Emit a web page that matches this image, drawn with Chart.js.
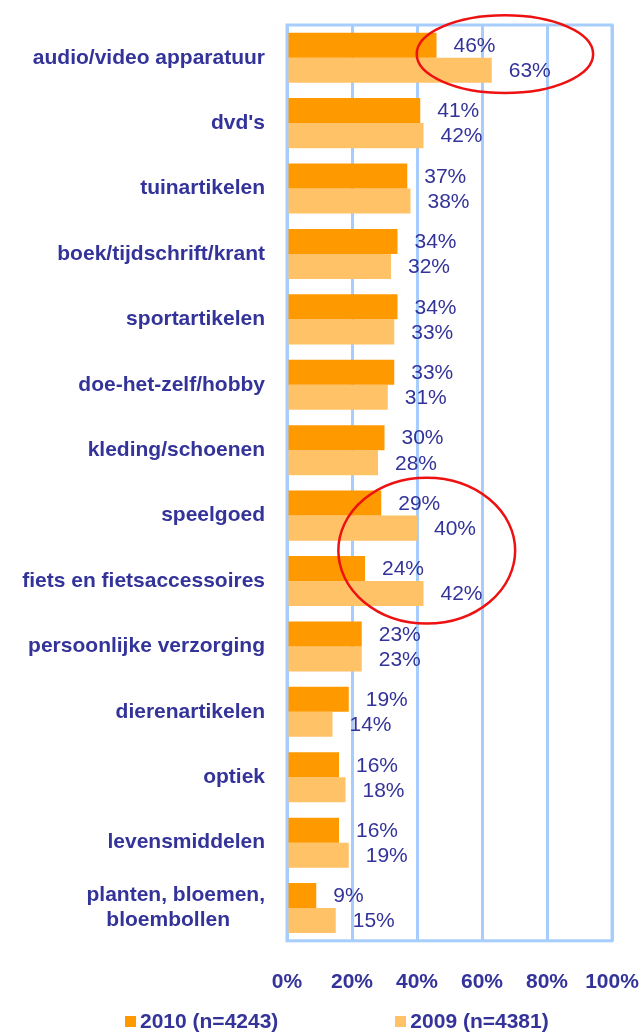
<!DOCTYPE html>
<html>
<head>
<meta charset="utf-8">
<script src="https://cdn.jsdelivr.net/npm/chart.js@4.4.1/dist/chart.umd.min.js"></script>
<style>
    html, body { margin: 0; padding: 0; background: #ffffff; }
    #wrap { position: relative; width: 639px; height: 1033px; }
    #legend {
        position: absolute; left: 125px; top: 1009px;
        display: flex; align-items: center;
        font: bold 21px "Liberation Sans", Arial, sans-serif; color: #333399;
    }
    #legend .item { display: flex; align-items: center; }
    #legend .item + .item { margin-left: 117px; }
    #legend .box { width: 11px; height: 11px; margin-right: 4px; }
</style>
</head>
<body>
<div id="wrap">
    <canvas id="chart" width="639" height="1033"></canvas>
    <div id="legend"></div>
</div>
<script>
// Kategorien (Y-Achse), von oben nach unten
const categories = [
    "audio/video apparatuur",
    "dvd's",
    "tuinartikelen",
    "boek/tijdschrift/krant",
    "sportartikelen",
    "doe-het-zelf/hobby",
    "kleding/schoenen",
    "speelgoed",
    "fiets en fietsaccessoires",
    "persoonlijke verzorging",
    "dierenartikelen",
    "optiek",
    "levensmiddelen",
    ["planten, bloemen,", "bloembollen      "]
];

const values2010 = [46, 41, 37, 34, 34, 33, 30, 29, 24, 23, 19, 16, 16, 9];
const values2009 = [63, 42, 38, 32, 33, 31, 28, 40, 42, 23, 14, 18, 19, 15];

const seriesLabels = ["2010 (n=4243)", "2009 (n=4381)"];
const xTicks = [0, 20, 40, 60, 80, 100];

// Rote Markierungen: Bereich in Prozent (x) und Kategorie-Index (y)
const highlightX = [[39.9, 94.2], [15.8, 70.2]];
const highlightY = [[-0.65, 0.54], [6.42, 8.65]];

const NAVY = "#333399";
const GRID = "#a6cdfb";
const FONT = "'Liberation Sans', Arial, sans-serif";

// Rahmen um die Zeichenfläche
const framePlugin = {
    id: "frame",
    beforeDatasetsDraw(chart) {
        const a = chart.chartArea;
        const ctx = chart.ctx;
        ctx.save();
        ctx.strokeStyle = GRID;
        ctx.lineWidth = 3;
        ctx.strokeRect(a.left, a.top, a.right - a.left, a.bottom - a.top);
        ctx.restore();
    }
};

// Prozentwerte rechts neben den Balken
const valueLabelPlugin = {
    id: "valueLabels",
    afterDatasetsDraw(chart) {
        const ctx = chart.ctx;
        ctx.save();
        ctx.font = "21px " + FONT;
        ctx.fillStyle = NAVY;
        ctx.textAlign = "left";
        ctx.textBaseline = "middle";
        chart.data.datasets.forEach((ds, i) => {
            chart.getDatasetMeta(i).data.forEach((bar, j) => {
                ctx.fillText(ds.data[j] + "%", bar.x + 17, bar.y + 1);
            });
        });
        ctx.restore();
    }
};

// Rote Ellipsen als Hervorhebung
const ellipsePlugin = {
    id: "ellipses",
    afterDraw(chart) {
        const xs = chart.scales.x;
        const ys = chart.scales.y;
        const ctx = chart.ctx;
        ctx.save();
        ctx.strokeStyle = "#ee1111";
        ctx.lineWidth = 2.5;
        highlightX.forEach((hx, i) => {
            const x1 = xs.getPixelForValue(hx[0]);
            const x2 = xs.getPixelForValue(hx[1]);
            const y1 = ys.getPixelForValue(highlightY[i][0]);
            const y2 = ys.getPixelForValue(highlightY[i][1]);
            ctx.beginPath();
            ctx.ellipse((x1 + x2) / 2, (y1 + y2) / 2, (x2 - x1) / 2, (y2 - y1) / 2, 0, 0, Math.PI * 2);
            ctx.stroke();
        });
        ctx.restore();
    }
};

const colors = ["#ff9900", "#ffc266"];

const chart = new Chart(document.getElementById("chart"), {
    type: "bar",
    data: {
        labels: categories,
        datasets: [
            { label: seriesLabels[0], data: values2010, backgroundColor: colors[0] },
            { label: seriesLabels[1], data: values2009, backgroundColor: colors[1] }
        ]
    },
    options: {
        indexAxis: "y",
        responsive: false,
        animation: false,
        datasets: {
            bar: { categoryPercentage: 0.765, barPercentage: 1 }
        },
        layout: { padding: { left: 0, right: 27, top: 25, bottom: 9 } },
        plugins: {
            legend: { display: false },
            tooltip: { enabled: false }
        },
        scales: {
            x: {
                min: 0,
                max: 100,
                afterBuildTicks: (scale) => { scale.ticks = xTicks.map(v => ({ value: v })); },
                // Randabstände der Beschriftung ignorieren, Layout-Padding bestimmt die Fläche
                afterFit: (scale) => { scale.paddingLeft = 0; scale.paddingRight = 0; },
                ticks: {
                    callback: v => v + "%",
                    font: { family: FONT, size: 21, weight: "bold" },
                    color: NAVY,
                    padding: 29,
                    maxRotation: 0
                },
                grid: { color: GRID, lineWidth: 3, drawTicks: false },
                border: { display: false }
            },
            y: {
                afterFit: (scale) => {
                    scale.width = 287;
                    scale.paddingTop = 0;
                    scale.paddingBottom = 0;
                },
                ticks: {
                    font: { family: FONT, size: 21, weight: "bold" },
                    color: NAVY,
                    padding: 22,
                    autoSkip: false
                },
                grid: { display: false, drawTicks: false },
                border: { display: false }
            }
        }
    },
    plugins: [framePlugin, valueLabelPlugin, ellipsePlugin]
});

// Legende als HTML unterhalb des Diagramms
const legend = document.getElementById("legend");
chart.data.datasets.forEach(ds => {
    const item = document.createElement("div");
    item.className = "item";
    const box = document.createElement("span");
    box.className = "box";
    box.style.background = ds.backgroundColor;
    const text = document.createElement("span");
    text.textContent = ds.label;
    item.appendChild(box);
    item.appendChild(text);
    legend.appendChild(item);
});
</script>
</body>
</html>
